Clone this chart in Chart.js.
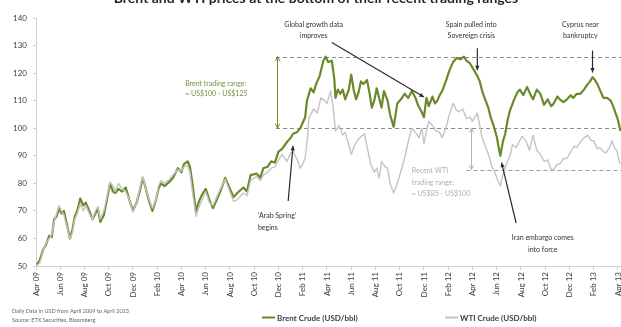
<!DOCTYPE html>
<html><head><meta charset="utf-8">
<script src="https://cdn.jsdelivr.net/npm/chart.js@4/dist/chart.umd.min.js"></script>
<style>html,body{margin:0;padding:0;background:#fff;overflow:hidden}#wrap{width:621px;height:327px;position:relative}</style>
</head><body><div id="wrap"><canvas id="c" width="621" height="327"></canvas></div>
<script>
// ---- DATA ----
const titleText = 'Brent and WTI prices at the bottom of their recent trading ranges';
const xTickLabels = ['Apr 09','Jun 09','Aug 09','Oct 09','Dec 09','Feb 10','Apr 10','Jun 10','Aug 10','Oct 10','Dec 10','Feb 11','Apr 11','Jun 11','Aug 11','Oct 11','Dec 11','Feb 12','Apr 12','Jun 12','Aug 12','Oct 12','Dec 12','Feb 13','Apr 13'];
const yTicks = [50,60,70,80,90,100,110,120,130,140];
// months elapsed since 1 April 2009
const brentMonths = [0,0.3,0.6,0.8,1.1,1.3,1.5,1.7,1.9,2.1,2.3,2.5,2.8,3.0,3.2,3.4,3.65,3.9,4.1,4.4,4.65,4.9,5.1,5.3,5.6,5.85,6.1,6.35,6.55,6.8,7.1,7.4,7.7,8.0,8.3,8.6,8.8,9.0,9.3,9.6,9.9,10.1,10.3,10.6,11.0,11.3,11.7,12.0,12.2,12.5,12.7,12.9,13.2,13.4,13.7,14.0,14.3,14.6,14.9,15.2,15.6,15.9,16.3,16.6,17.1,17.4,17.7,18.2,18.5,18.75,19.1,19.4,19.7,20.0,20.3,20.7,21.0,21.2,21.5,21.8,22.0,22.2,22.35,22.65,22.9,23.1,23.4,23.7,23.9,24.1,24.4,24.6,24.7,24.9,25.1,25.3,25.5,25.8,26.0,26.2,26.4,26.6,26.8,27.0,27.3,27.5,27.7,27.9,28.1,28.3,28.5,28.7,29.0,29.2,29.5,29.8,30.1,30.4,30.7,31.0,31.3,31.5,31.8,32.0,32.2,32.4,32.7,32.9,33.1,33.3,33.5,33.8,34.1,34.4,34.7,35.0,35.3,35.5,35.8,36.0,36.2,36.4,36.6,36.8,37.0,37.3,37.5,37.7,38.0,38.2,38.3,38.5,38.7,38.9,39.1,39.4,39.7,39.9,40.2,40.5,40.8,41.0,41.3,41.6,41.9,42.2,42.5,42.7,43.0,43.2,43.5,43.8,44.1,44.3,44.6,44.9,45.2,45.5,45.7,45.9,46.1,46.3,46.6,46.8,47.1,47.4,47.6,47.8,48.0,48.2];
const brentPrices = [50,52,56,57.5,61,60.5,67,68,71,69,70,66,60,63,68,70,74.5,72,73,70,67,69,71,66,68.5,74,80,77,76.5,78,77,78.5,74,70,73,78,82,79,74,70,74,78,80,79,80.5,82,85.5,84,87,88,86,80,69.5,73,76,78,74,71,74,77,82,79,75,76.5,78.5,77,83,83.5,82,85.5,86,88,87.5,91.5,92.5,95,96.5,98,98.5,100,102,104,110,114.5,113,116,119,124.5,126,124,124.5,118,111,114,112.5,114,110.5,114,119.5,114,110.5,113,117,116,117.5,113,107.5,110,114.5,111,107.5,113.5,110,105,100.5,109,110.5,112.5,111,113.5,111,108.5,106,104,111,108,111.5,109,110,112,113.5,117,121,124,125.5,125,126,124.5,123.5,122,120.5,119,117,113.5,111,107.5,104,101.5,97,92,90,95,98,103,106.5,110,113,114,112,115,112,110.5,114,112.5,108.5,110.5,108,109,111.5,110.5,109.5,110.5,112,111,112.5,112.5,114,116,117,118.5,117.5,116,113,111,111,110,108,105.5,103,99];
const wtiMonths = [0,0.3,0.6,0.8,1.1,1.3,1.5,1.7,1.9,2.1,2.3,2.5,2.8,3.0,3.2,3.4,3.65,3.9,4.1,4.4,4.65,4.9,5.1,5.3,5.6,5.85,6.1,6.35,6.55,6.8,7.1,7.4,7.7,8.0,8.3,8.6,8.8,9.0,9.3,9.6,9.9,10.1,10.3,10.6,11.0,11.3,11.7,12.0,12.2,12.5,12.7,12.9,13.2,13.4,13.7,14.0,14.3,14.6,14.9,15.2,15.6,15.9,16.3,16.6,17.1,17.4,17.7,18.2,18.5,18.75,19.1,19.4,19.7,20.0,20.3,20.7,21.0,21.2,21.5,21.8,22.0,22.2,22.4,22.5,22.9,23.2,23.5,23.8,24.0,24.3,24.5,24.7,25.0,25.3,25.5,25.8,26.0,26.3,26.5,26.8,27.1,27.3,27.6,27.9,28.1,28.3,28.5,28.8,29.0,29.2,29.5,29.8,30.1,30.4,30.6,30.8,31.0,31.3,31.6,31.8,32.0,32.2,32.4,32.7,33.0,33.3,33.5,33.8,34.1,34.4,34.7,34.9,35.2,35.5,35.8,36.0,36.2,36.4,36.6,36.8,37.1,37.4,37.6,37.8,38.0,38.3,38.5,38.8,39.1,39.3,39.6,39.9,40.1,40.4,40.7,41.0,41.3,41.6,41.9,42.2,42.5,42.7,43.0,43.2,43.5,43.8,44.1,44.4,44.6,44.9,45.2,45.5,45.8,46.0,46.3,46.5,46.8,47.0,47.3,47.5,47.7,47.9,48.1,48.2];
const wtiPrices = [50,51,55.5,58,60,61.5,66,69,72,70,68.5,65,60,62,67,69,72.5,70,72,69,67,70,71.5,67,70,75,80.5,79,77,80,78,77,74,69.5,73,79,82.5,79,74.5,71,74,79,81,80,81.5,83,85,84.5,86,86.5,84,77,68,71,74,77,73,72,75,78,81.5,78,73.5,74,76.5,75.5,81,82.5,81,83,84,85.5,86,88.5,90.5,88,91,91.5,89,85.5,87,89,97,103.5,107,105.5,111,110,109,113.5,108,99,101,97.5,98.5,94,90.5,94,95.5,97,98,93.5,87,84,85.5,82,88,86,85.5,80,76.5,80,84.5,89,93,97,100,98.5,96.5,100,94.5,99,102.5,101,99,98.5,96.5,100,105,109,106.5,106,107,103.5,104,102.5,104,105.5,101,96.5,93,89.5,86,84.5,82,79,83,87,90,94,93,95.5,97,95.5,92,97.5,92,90.5,88,88.5,85,85,87,87,89,89,91.5,93.5,93,95,96.5,97.5,95.5,95.5,92.5,93,91.5,91,93,95.5,93,92,88,87];
const seriesNames = ['Brent Crude (USD/bbl)', 'WTI Crude (USD/bbl)'];

// ---- ANNOTATIONS (in data coordinates) ----
const rangeLines = [
  {from: 19.8, level: 126, color: '#8a8a8a'},
  {from: 19.8, level: 100, color: '#8a8a8a'},
  {from: 35.5, level: 85, color: '#9a9a9a'}
];
const rangeArrows = [
  {m: 19.9, lo: 100, hi: 126, color: '#6f8f2f'},
  {m: 35.9, lo: 85, hi: 100, color: '#b5b5b5'}
];
const pointerArrows = [
  {from: [24.4, 131.1], to: [32.0, 111.3]},
  {from: [36.4, 129.0], to: [36.4, 121.0]},
  {from: [45.9, 128.2], to: [45.9, 120.2]},
  {from: [39.6, 65.6], to: [38.4, 87.5]},
  {from: [20.8, 73.6], to: [21.2, 93.6]}
];
const notes = [
  {m: 22.9, v: 137.6, text: 'Global growth data', align: 'center', color: '#333'},
  {m: 22.9, v: 133.6, text: 'improves', align: 'center', color: '#333'},
  {m: 35.9, v: 137.6, text: 'Spain pulled into', align: 'center', color: '#333'},
  {m: 35.9, v: 133.4, text: 'Sovereign crisis', align: 'center', color: '#333'},
  {m: 44.9, v: 137.6, text: 'Cyprus near', align: 'center', color: '#333'},
  {m: 44.9, v: 133.4, text: 'bankruptcy', align: 'center', color: '#333'},
  {m: 41.8, v: 60.2, text: 'Iran embargo comes', align: 'center', color: '#333'},
  {m: 41.8, v: 55.8, text: 'into force', align: 'center', color: '#333'},
  {m: 18.3, v: 68.2, text: '\u2018Arab Spring\u2019', align: 'left', color: '#333'},
  {m: 18.3, v: 63.8, text: 'begins', align: 'left', color: '#333'},
  {m: 12.3, v: 116.2, text: 'Brent trading range:', align: 'left', color: '#76923c'},
  {m: 12.3, v: 112.5, text: '= US$100 - US$125', align: 'left', color: '#76923c'},
  {m: 31.0, v: 84.5, text: 'Recent WTI', align: 'left', color: '#b0b0b0'},
  {m: 31.0, v: 80.2, text: 'trading range:', align: 'left', color: '#b0b0b0'},
  {m: 31.0, v: 76.2, text: '= US$85 - US$100', align: 'left', color: '#b0b0b0'}
];
const footnotes = ['Daily Data in USD from April 2009 to April 2013', 'Source: ETX Securities, Bloomberg'];

const FONT = 'Lato, "Open Sans", sans-serif';
const brentColor = '#6a8a2a';
const wtiColor = '#c4c4c4';

function arrowHead(ctx, x1, y1, x2, y2, size, filled) {
  const a = Math.atan2(y2 - y1, x2 - x1);
  ctx.beginPath();
  ctx.moveTo(x2, y2);
  ctx.lineTo(x2 - size * Math.cos(a - 0.45), y2 - size * Math.sin(a - 0.45));
  if (filled) {
    ctx.lineTo(x2 - size * Math.cos(a + 0.45), y2 - size * Math.sin(a + 0.45));
    ctx.closePath(); ctx.fill();
  } else {
    ctx.moveTo(x2, y2);
    ctx.lineTo(x2 - size * Math.cos(a + 0.45), y2 - size * Math.sin(a + 0.45));
    ctx.stroke();
  }
}

const annot = {
  id: 'annot',
  beforeDatasetsDraw(chart) {
    const {ctx, scales: {x, y}} = chart;
    ctx.save();
    ctx.setLineDash([4, 3]);
    ctx.lineWidth = 1;
    for (const d of rangeLines) {
      ctx.strokeStyle = d.color;
      ctx.beginPath();
      ctx.moveTo(x.getPixelForValue(d.from), Math.round(y.getPixelForValue(d.level)) + 0.5);
      ctx.lineTo(chart.width, Math.round(y.getPixelForValue(d.level)) + 0.5);
      ctx.stroke();
    }
    ctx.restore();
  },
  afterDatasetsDraw(chart) {
    const {ctx, scales: {x, y}} = chart;
    ctx.save();
    for (const r of rangeArrows) {
      const px = Math.round(x.getPixelForValue(r.m)) + 0.5;
      const y1 = y.getPixelForValue(r.hi), y2 = y.getPixelForValue(r.lo);
      ctx.strokeStyle = r.color; ctx.lineWidth = 1;
      ctx.beginPath(); ctx.moveTo(px, y1); ctx.lineTo(px, y2); ctx.stroke();
      arrowHead(ctx, px, y2, px, y1, 5, false);
      arrowHead(ctx, px, y1, px, y2, 5, false);
    }
    ctx.strokeStyle = '#2b2b2b'; ctx.fillStyle = '#2b2b2b'; ctx.lineWidth = 1.2;
    for (const p of pointerArrows) {
      const x1 = x.getPixelForValue(p.from[0]), y1 = y.getPixelForValue(p.from[1]);
      const x2 = x.getPixelForValue(p.to[0]), y2 = y.getPixelForValue(p.to[1]);
      ctx.beginPath(); ctx.moveTo(x1, y1); ctx.lineTo(x2, y2); ctx.stroke();
      arrowHead(ctx, x1, y1, x2, y2, 5, true);
    }
    ctx.font = '7px ' + FONT;
    ctx.textBaseline = 'middle';
    for (const n of notes) {
      ctx.fillStyle = n.color; ctx.textAlign = n.align;
      ctx.fillText(n.text, x.getPixelForValue(n.m), y.getPixelForValue(n.v));
    }
    ctx.restore();
  },
  afterDraw(chart) {
    const ctx = chart.ctx;
    ctx.save();
    ctx.font = 'bold 14px ' + FONT;
    ctx.fillStyle = '#262626';
    ctx.textAlign = 'center'; ctx.textBaseline = 'alphabetic';
    ctx.fillText(titleText, 316, 3);
    ctx.font = '5.5px ' + FONT;
    ctx.fillStyle = '#666';
    ctx.textAlign = 'left'; ctx.textBaseline = 'middle';
    ctx.fillText(footnotes[0], 12, 311);
    ctx.fillText(footnotes[1], 12, 320);
    ctx.font = 'bold 8px ' + FONT;
    ctx.fillStyle = '#404040';
    const items = [{c: brentColor, x: 262, t: seriesNames[0]}, {c: wtiColor, x: 445, t: seriesNames[1]}];
    for (const it of items) {
      ctx.strokeStyle = it.c; ctx.lineWidth = 2;
      ctx.beginPath(); ctx.moveTo(it.x, 317.5); ctx.lineTo(it.x + 13, 317.5); ctx.stroke();
      ctx.fillText(it.t, it.x + 15, 318);
    }
    ctx.restore();
  }
};

const toPoints = (ms, vs) => ms.map((m, i) => ({x: m, y: vs[i]}));

new Chart(document.getElementById('c'), {
  type: 'line',
  data: {
    datasets: [
      {label: seriesNames[0], data: toPoints(brentMonths, brentPrices), borderColor: brentColor, borderWidth: 2.2, pointRadius: 0, tension: 0, order: 1, borderJoinStyle: 'round'},
      {label: seriesNames[1], data: toPoints(wtiMonths, wtiPrices), borderColor: wtiColor, borderWidth: 1.4, pointRadius: 0, tension: 0, order: 0, borderJoinStyle: 'round'}
    ]
  },
  options: {
    responsive: false,
    devicePixelRatio: 1,
    animation: false,
    events: [],
    layout: {padding: {top: 18, left: 0, right: 0, bottom: 0}},
    plugins: {legend: {display: false}, title: {display: false}, tooltip: {enabled: false}},
    scales: {
      x: {
        type: 'linear', min: 0, max: 48.25,
        afterBuildTicks: s => { s.ticks = xTickLabels.map((_, i) => ({value: i * 2})); },
        afterFit: s => { s.height = 61; s.paddingRight = 0; s.paddingLeft = 0; },
        ticks: {
          autoSkip: false, minRotation: 90, maxRotation: 90, padding: 2,
          color: '#404040', font: {family: FONT, size: 8},
          callback: (v) => xTickLabels[Math.round(v / 2)] || ''
        },
        grid: {display: true, drawOnChartArea: false, drawTicks: true, tickLength: 4, color: '#d0d0d0'},
        border: {display: true, color: '#d0d0d0', width: 1}
      },
      y: {
        min: 50, max: 140,
        afterBuildTicks: s => { s.ticks = yTicks.map(v => ({value: v})); },
        afterFit: s => { s.width = 36; },
        ticks: {color: '#404040', font: {family: FONT, size: 8}, padding: 6},
        grid: {display: true, drawOnChartArea: false, drawTicks: true, tickLength: 3, color: '#d0d0d0'},
        border: {display: true, color: '#d0d0d0', width: 1}
      }
    }
  },
  plugins: [annot]
});
</script>
</body></html>
